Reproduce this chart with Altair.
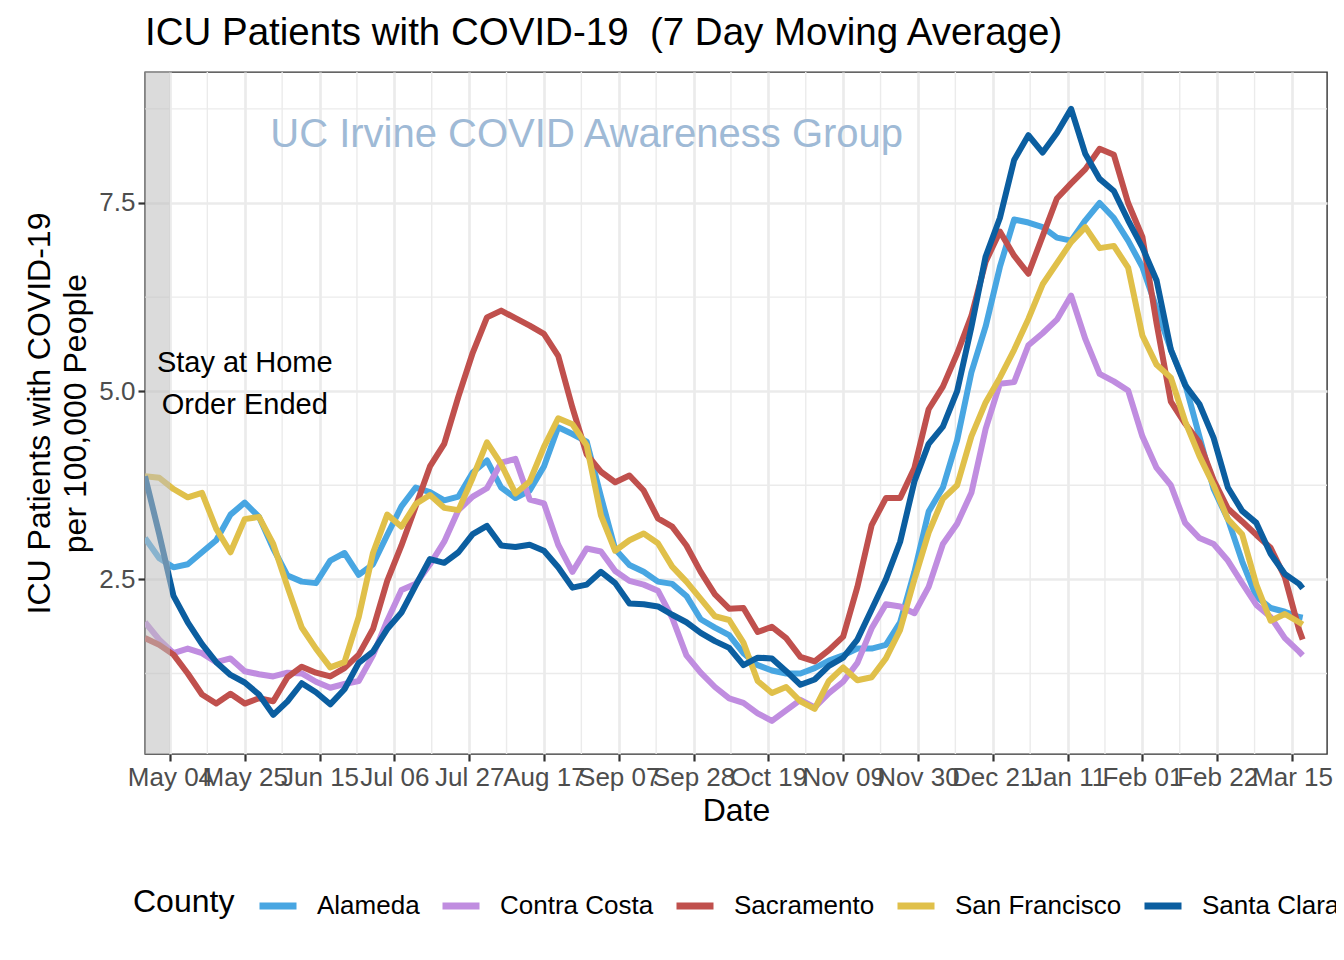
import altair as alt
import pandas as pd

# Sampling dates (every 4 days) and the last day of data
dates = [
    "2020-04-27", "2020-05-01", "2020-05-05", "2020-05-09", "2020-05-13", "2020-05-17",
    "2020-05-21", "2020-05-25", "2020-05-29", "2020-06-02", "2020-06-06", "2020-06-10",
    "2020-06-14", "2020-06-18", "2020-06-22", "2020-06-26", "2020-06-30", "2020-07-04",
    "2020-07-08", "2020-07-12", "2020-07-16", "2020-07-20", "2020-07-24", "2020-07-28",
    "2020-08-01", "2020-08-05", "2020-08-09", "2020-08-13", "2020-08-17", "2020-08-21",
    "2020-08-25", "2020-08-29", "2020-09-02", "2020-09-06", "2020-09-10", "2020-09-14",
    "2020-09-18", "2020-09-22", "2020-09-26", "2020-09-30", "2020-10-04", "2020-10-08",
    "2020-10-12", "2020-10-16", "2020-10-20", "2020-10-24", "2020-10-28", "2020-11-01",
    "2020-11-05", "2020-11-09", "2020-11-13", "2020-11-17", "2020-11-21", "2020-11-25",
    "2020-11-29", "2020-12-03", "2020-12-07", "2020-12-11", "2020-12-15", "2020-12-19",
    "2020-12-23", "2020-12-27", "2020-12-31", "2021-01-04", "2021-01-08", "2021-01-12",
    "2021-01-16", "2021-01-20", "2021-01-24", "2021-01-28", "2021-02-01", "2021-02-05",
    "2021-02-09", "2021-02-13", "2021-02-17", "2021-02-21", "2021-02-25", "2021-03-01",
    "2021-03-05", "2021-03-09", "2021-03-13", "2021-03-17", "2021-03-18",
]

alameda = [
    3.05, 2.78, 2.66, 2.70, 2.86, 3.02, 3.36, 3.52, 3.33, 2.91,
    2.55, 2.47, 2.45, 2.75, 2.85, 2.56, 2.70, 3.09, 3.47, 3.72,
    3.66, 3.55, 3.60, 3.92, 4.08, 3.72, 3.58, 3.68, 4.00, 4.52,
    4.43, 4.33, 3.60, 2.90, 2.69, 2.60, 2.47, 2.44, 2.28, 1.97,
    1.86, 1.76, 1.52, 1.36, 1.29, 1.25, 1.25, 1.32, 1.42, 1.49,
    1.58, 1.58, 1.63, 1.93, 2.60, 3.40, 3.72, 4.35, 5.25, 5.86,
    6.65, 7.28, 7.24, 7.18, 7.04, 7.00, 7.27, 7.50, 7.30, 7.00,
    6.65, 6.10, 5.55, 5.10, 4.40, 3.70, 3.30, 2.74, 2.27, 2.12,
    2.07, 2.00, 1.99,
]

contra_costa = [
    1.93, 1.70, 1.52, 1.58, 1.52, 1.40, 1.45, 1.28, 1.24, 1.21,
    1.26, 1.25, 1.14, 1.06, 1.11, 1.15, 1.49, 1.95, 2.36, 2.44,
    2.70, 3.00, 3.42, 3.60, 3.71, 4.05, 4.10, 3.56, 3.51, 2.96,
    2.60, 2.91, 2.87, 2.61, 2.48, 2.43, 2.35, 1.99, 1.49, 1.26,
    1.07, 0.92, 0.86, 0.72, 0.62, 0.76, 0.90, 0.80, 0.99, 1.14,
    1.39, 1.85, 2.17, 2.14, 2.05, 2.40, 2.97, 3.24, 3.65, 4.50,
    5.10, 5.12, 5.61, 5.77, 5.95, 6.27, 5.69, 5.23, 5.13, 5.01,
    4.40, 3.98, 3.75, 3.25, 3.05, 2.97, 2.75, 2.45, 2.16, 2.00,
    1.72, 1.54, 1.49,
]

sacramento = [
    1.72, 1.63, 1.50, 1.25, 0.97, 0.85, 0.98, 0.85, 0.92, 0.88,
    1.20, 1.34, 1.26, 1.21, 1.32, 1.50, 1.84, 2.48, 2.95, 3.47,
    4.00, 4.30, 4.93, 5.51, 5.98, 6.07, 5.97, 5.87, 5.76, 5.47,
    4.78, 4.16, 3.93, 3.79, 3.88, 3.68, 3.31, 3.20, 2.95, 2.60,
    2.30, 2.11, 2.12, 1.80, 1.87, 1.72, 1.47, 1.41, 1.56, 1.74,
    2.40, 3.22, 3.58, 3.58, 3.98, 4.76, 5.06, 5.50, 6.00, 6.72,
    7.12, 6.80, 6.56, 7.06, 7.56, 7.76, 7.95, 8.22, 8.14, 7.50,
    7.05, 5.90, 4.86, 4.57, 4.32, 3.82, 3.44, 3.27, 3.09, 2.92,
    2.53, 1.83, 1.70,
]

san_francisco = [
    3.87, 3.85, 3.70, 3.59, 3.65, 3.17, 2.86, 3.30, 3.33, 2.97,
    2.40, 1.86, 1.58, 1.33, 1.40, 2.00, 2.85, 3.36, 3.20, 3.50,
    3.62, 3.45, 3.42, 3.85, 4.32, 4.03, 3.64, 3.80, 4.26, 4.64,
    4.56, 4.28, 3.35, 2.88, 3.02, 3.11, 2.98, 2.67, 2.47, 2.24,
    2.01, 1.96, 1.66, 1.15, 0.99, 1.07, 0.88, 0.78, 1.15, 1.33,
    1.16, 1.20, 1.45, 1.83, 2.50, 3.12, 3.57, 3.75, 4.40, 4.85,
    5.18, 5.55, 5.96, 6.42, 6.70, 6.98, 7.18, 6.90, 6.93, 6.64,
    5.74, 5.35, 5.18, 4.60, 4.14, 3.75, 3.30, 3.10, 2.43, 1.95,
    2.04, 1.93, 1.90,
]

santa_clara = [
    3.87, 3.10, 2.28, 1.93, 1.64, 1.40, 1.23, 1.13, 0.97, 0.70,
    0.88, 1.12, 1.00, 0.84, 1.04, 1.39, 1.54, 1.84, 2.06, 2.42,
    2.77, 2.72, 2.86, 3.10, 3.21, 2.95, 2.93, 2.96, 2.88, 2.66,
    2.39, 2.43, 2.60, 2.45, 2.18, 2.17, 2.14, 2.03, 1.93, 1.79,
    1.68, 1.59, 1.36, 1.46, 1.45, 1.28, 1.10, 1.17, 1.35, 1.46,
    1.70, 2.10, 2.50, 3.00, 3.80, 4.30, 4.53, 5.00, 5.85, 6.79,
    7.30, 8.07, 8.40, 8.17, 8.43, 8.75, 8.15, 7.82, 7.66, 7.27,
    6.91, 6.47, 5.55, 5.08, 4.83, 4.38, 3.72, 3.41, 3.25, 2.84,
    2.57, 2.44, 2.38,
]

counties = ["Alameda", "Contra Costa", "Sacramento", "San Francisco", "Santa Clara"]
county_colors = ["#48A6E2", "#C08DE0", "#C0504D", "#E0C04A", "#0B5EA0"]

tick_dates = [
    "2020-05-04", "2020-05-25", "2020-06-15", "2020-07-06", "2020-07-27", "2020-08-17",
    "2020-09-07", "2020-09-28", "2020-10-19", "2020-11-09", "2020-11-30", "2020-12-21",
    "2021-01-11", "2021-02-01", "2021-02-22", "2021-03-15",
]
y_major = [2.5, 5.0, 7.5]
y_minor = [1.25, 3.75, 6.25, 8.75]

x_domain = ["2020-04-27", "2021-03-24T20:00:00"]
y_domain = [0.18, 9.24]
order_end = "2020-05-04"

# ---------------------------------------------------------------------------
def ms(s):
    return int(pd.Timestamp(s, tz="UTC").value // 10**6)

tick_ms = [ms(t) for t in tick_dates]
minor_ms = [t + int(10.5 * 86400000) for t in tick_ms]
minor_ms = [m for m in minor_ms if ms(x_domain[0]) < m < ms(x_domain[1])]

series = [alameda, contra_costa, sacramento, san_francisco, santa_clara]
rows = []
for name, vals in zip(counties, series):
    for d, v in zip(dates, vals):
        rows.append({"Date": ms(d), "value": v, "County": name})
df = pd.DataFrame(rows)

FONT = "Liberation Sans"
GRID = "#EBEBEB"

x_scale = alt.Scale(type="utc", domain=[ms(x_domain[0]), ms(x_domain[1])], nice=False)
y_scale = alt.Scale(domain=y_domain, nice=False, zero=False)

x_axis = alt.Axis(
    values=tick_ms,
    format="%b %d",
    title="Date",
    labelFlush=False,
    labelOverlap=False,
    labelPadding=3,
    titlePadding=5,
)
y_axis = alt.Axis(
    values=y_major,
    format=".1f",
    title=["ICU Patients with COVID-19", "per 100,000 People"],
    titleLineHeight=36,
    labelPadding=3,
    titlePadding=6,
)

minor_v = alt.Chart(pd.DataFrame({"gx": minor_ms})).mark_rule(
    color=GRID, strokeWidth=1.4
).encode(x=alt.X("gx:T", scale=x_scale, axis=x_axis))

minor_h = alt.Chart(pd.DataFrame({"gy": y_minor})).mark_rule(
    color=GRID, strokeWidth=1.4
).encode(y=alt.Y("gy:Q", scale=y_scale, axis=y_axis))

lines = alt.Chart(df).mark_line(
    strokeWidth=6, strokeJoin="round", clip=True
).encode(
    x=alt.X("Date:T", scale=x_scale, axis=x_axis),
    y=alt.Y("value:Q", scale=y_scale, axis=y_axis),
    color=alt.Color(
        "County:N",
        scale=alt.Scale(domain=counties, range=county_colors),
        legend=alt.Legend(
            title="County",
            orient="none",
            legendX=-12,
            legendY=812,
            direction="horizontal",
            titleOrient="left",
            titleFontSize=32,
            titleFontWeight="normal",
            titleColor="black",
            titleFont=FONT,
            titlePadding=21,
            labelFontSize=26,
            labelColor="black",
            labelFont=FONT,
            labelOffset=17,
            labelLimit=0,
            columnPadding=8,
            symbolType="stroke",
            symbolSize=1369,
            symbolStrokeWidth=7,
        ),
    ),
    detail="County:N",
)

rect = alt.Chart(pd.DataFrame({"x0": [ms(x_domain[0])], "x1": [ms(order_end)]})).mark_rect(
    color="#BEBEBE", opacity=0.55
).encode(
    x=alt.X("x0:T", scale=x_scale, axis=x_axis),
    x2="x1:T",
)

uc_df = pd.DataFrame({"Date": [ms("2020-08-29")], "value": [8.25], "label": ["UC Irvine COVID Awareness Group"]})
uc_text = alt.Chart(uc_df).mark_text(
    font=FONT, fontSize=40, color="#9FBAD6", align="center", baseline="alphabetic"
).encode(
    x=alt.X("Date:T", scale=x_scale, axis=x_axis),
    y=alt.Y("value:Q", scale=y_scale, axis=y_axis),
    text="label:N",
)

stay_df = pd.DataFrame({
    "Date": [ms("2020-05-25"), ms("2020-05-25")],
    "value": [5.25, 4.70],
    "label": ["Stay at Home", "Order Ended"],
})
stay_text = alt.Chart(stay_df).mark_text(
    font=FONT, fontSize=29, color="black", align="center", baseline="alphabetic"
).encode(
    x=alt.X("Date:T", scale=x_scale, axis=x_axis),
    y=alt.Y("value:Q", scale=y_scale, axis=y_axis),
    text="label:N",
)

chart = alt.layer(minor_v, minor_h, lines, rect, uc_text, stay_text).properties(
    width=1182,
    height=682,
    title=alt.TitleParams(
        "ICU Patients with COVID-19\u00a0 (7 Day Moving Average)",
        anchor="start",
        frame="group",
        fontSize=38.5,
        font=FONT,
        fontWeight="normal",
        color="black",
        offset=18,
    ),
    autosize=alt.AutoSizeParams(type="none"),
    padding={"left": 137, "top": 64, "right": 9, "bottom": 198},
).configure_view(
    stroke="#333333", strokeWidth=1.4
).configure_axis(
    labelFont=FONT,
    titleFont=FONT,
    labelFontSize=26,
    labelColor="#4D4D4D",
    titleFontSize=32,
    titleFontWeight="normal",
    titleColor="black",
    tickColor="#333333",
    tickWidth=2.2,
    tickSize=7,
    domain=False,
    gridColor=GRID,
    gridWidth=2.7,
)

chart.save("out.html", embed_options={"renderer": "svg", "actions": False})
